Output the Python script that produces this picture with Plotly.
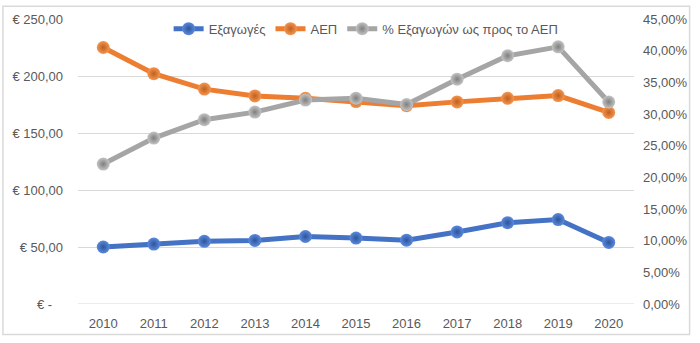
import plotly.graph_objects as go

years = ["2010", "2011", "2012", "2013", "2014", "2015", "2016", "2017", "2018", "2019", "2020"]
exports = [50.0, 52.6, 55.0, 55.8, 59.2, 57.8, 56.0, 63.2, 71.3, 74.1, 54.0]
gdp = [225.0, 202.0, 188.5, 182.5, 180.4, 177.6, 174.0, 177.3, 180.4, 182.8, 168.0]
share = [22.1, 26.2, 29.1, 30.3, 32.2, 32.5, 31.5, 35.5, 39.2, 40.6, 31.9]

left_ticks = [0, 50, 100, 150, 200, 250]
left_labels = ["€ -   ", "€ 50,00", "€ 100,00", "€ 150,00", "€ 200,00", "€ 250,00"]
right_ticks = [0, 5, 10, 15, 20, 25, 30, 35, 40, 45]
right_labels = ["0,00%", "5,00%", "10,00%", "15,00%", "20,00%", "25,00%", "30,00%", "35,00%", "40,00%", "45,00%"]

names = ["Εξαγωγές", "ΑΕΠ", "% Εξαγωγών ως προς το ΑΕΠ"]
line_colors = ["#4472C4", "#ED7D31", "#A5A5A5"]
center_colors = ["#5A8AE0", "#F49550", "#C4C4C4"]
edge_colors = ["#2F5597", "#C0601F", "#7F7F7F"]

FONT = "Liberation Sans"
TXT = "#595959"

fig = go.Figure()
for i, (vals, axis) in enumerate([(exports, "y"), (gdp, "y"), (share, "y2")]):
    fig.add_trace(go.Scatter(
        x=years, y=vals, name=names[i], yaxis=axis, mode="lines+markers",
        line=dict(color=line_colors[i], width=5),
        marker=dict(size=13, color=center_colors[i],
                    gradient=dict(type="radial", color=edge_colors[i]),
                    line=dict(width=0)),
        hoverinfo="skip",
    ))

fig.update_layout(
    width=700, height=343,
    margin=dict(l=78, r=63, t=16, b=37),
    paper_bgcolor="white", plot_bgcolor="white",
    font=dict(family=FONT, size=13, color=TXT),
    showlegend=True,
    legend=dict(orientation="h", x=0.163, y=0.966, xanchor="left", yanchor="middle",
                bgcolor="rgba(0,0,0,0)", font=dict(family=FONT, size=13, color=TXT),
                itemwidth=30, tracegroupgap=0),
    xaxis=dict(type="category", range=[-0.5, 10.5], showgrid=False, showline=False,
               zeroline=False, ticks="", tickfont=dict(size=13, color=TXT), ticklabelstandoff=10),
    yaxis=dict(range=[0, 250], tickvals=left_ticks, ticktext=left_labels, showgrid=True,
               gridcolor="#D9D9D9", gridwidth=1, zeroline=False, showline=False, ticks="",
               tickfont=dict(size=13, color=TXT), ticklabelstandoff=14),
    yaxis2=dict(range=[0, 45], tickvals=right_ticks, ticktext=right_labels, overlaying="y",
                side="right", showgrid=False, zeroline=False, showline=False, ticks="",
                tickfont=dict(size=13, color=TXT), ticklabelstandoff=8),
    shapes=[dict(type="rect", xref="paper", yref="paper", x0=-0.135, x1=1.1, y0=-0.107, y1=1.045,
                 line=dict(color="#D9D9D9", width=1.5), layer="below")],
)
fig.add_shape(type="line", xref="paper", yref="y", x0=0, x1=1, y0=0, y1=0,
              line=dict(color="#D9D9D9", width=1), layer="below")

fig.write_html("out.html")
